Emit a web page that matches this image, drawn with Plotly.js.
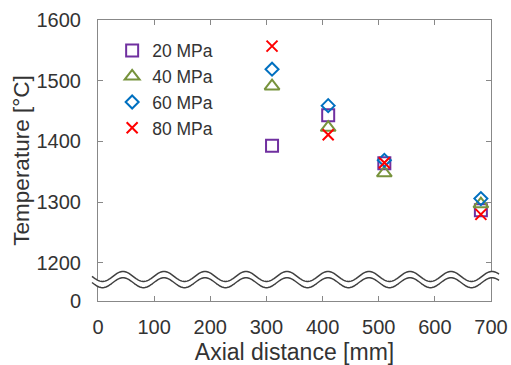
<!DOCTYPE html>
<html>
<head>
<meta charset="utf-8">
<script src="https://cdn.plot.ly/plotly-3.0.1.min.js"></script>
<style>html,body{margin:0;padding:0;background:#fff;}#chart{width:511px;height:365px;}</style>
</head>
<body>
<div id="chart"></div>
<script>
// Data
var axialDistance = [310, 410, 510, 682];
var temp20 = [1393, 1443, 1364, 1287];
var temp40 = [1491, 1423, 1348, 1297];
var temp60 = [1519, 1459, 1369, 1306];
var temp80 = [1557, 1411, 1365, 1280];
var seriesNames = ['20 MPa', '40 MPa', '60 MPa', '80 MPa'];
var xTicks = [0, 100, 200, 300, 400, 500, 600, 700];
var yBreakBase = 1137.4; // axis value drawn at the "0" label (broken axis)
var yTickVals = [yBreakBase, 1200, 1300, 1400, 1500, 1600];
var yTickText = ['0', '1200', '1300', '1400', '1500', '1600'];

var FONT = 'Liberation Sans, Arial, sans-serif';
var W = 511, H = 365, L = 98, R = 20, T = 20, B = 64;
var pw = W - L - R, ph = H - T - B;

function mk(name, y, symbol, color, size) {
  return {
    type: 'scatter', mode: 'markers', name: name,
    x: axialDistance, y: y,
    marker: {symbol: symbol, size: size, color: color, line: {color: color, width: 2}}
  };
}
var traces = [
  mk(seriesNames[0], temp20, 'square-open', '#7030A0', 12),
  mk(seriesNames[1], temp40, 'triangle-up-open', '#77933C', 13),
  mk(seriesNames[2], temp60, 'diamond-open', '#0070C0', 10),
  mk(seriesNames[3], temp80, 'x-thin-open', '#FF0000', 11)
];

// Axis-break symbol (decoration) in paper coordinates
function px2paperX(p){ return (p - L) / pw; }
function px2paperY(p){ return (H - B - p) / ph; }
function wave(center, x0, x1) {
  var pts = [];
  for (var xp = x0; xp <= x1 + 0.01; xp += 1) {
    var yp = center - 5 * Math.cos(2 * Math.PI * (xp - 123) / 41);
    pts.push([px2paperX(xp), px2paperY(yp)]);
  }
  return pts;
}
function toPath(pts, start) {
  return pts.map(function(p, i){ return ((i === 0 && start) ? 'M' : 'L') + p[0].toFixed(5) + ',' + p[1].toFixed(5); }).join(' ');
}
var up = wave(276.5, 92, 499);
var lo = wave(282.7, 92, 499);
var fillPath = toPath(up, true) + ' ' + toPath(lo.slice().reverse(), false) + ' Z';
var shapes = [
  {type: 'path', xref: 'paper', yref: 'paper', path: fillPath, fillcolor: '#ffffff', line: {width: 0}, layer: 'above'},
  {type: 'path', xref: 'paper', yref: 'paper', path: toPath(up, true), line: {color: '#404040', width: 1.5}, layer: 'above'},
  {type: 'path', xref: 'paper', yref: 'paper', path: toPath(lo, true), line: {color: '#404040', width: 1.5}, layer: 'above'}
];

var layout = {
  width: W, height: H,
  margin: {l: L, r: R, t: T, b: B, pad: 0},
  paper_bgcolor: '#ffffff', plot_bgcolor: '#ffffff',
  font: {family: FONT, color: '#333333', size: 18},
  showlegend: true,
  legend: {x: 0.036, y: 0.955, xanchor: 'left', yanchor: 'top', bgcolor: 'rgba(0,0,0,0)',
           font: {family: FONT, size: 17.5, color: '#333333'}, tracegroupgap: 0, itemwidth: 30},
  xaxis: {
    range: [0, 700], tickvals: xTicks, ticks: 'inside', ticklen: 5, tickcolor: '#888888',
    showline: true, linecolor: '#888888', linewidth: 1, mirror: 'ticks',
    showgrid: false, zeroline: false, fixedrange: true,
    tickfont: {family: FONT, size: 20, color: '#333333'}, ticklabelstandoff: 8,
    title: {text: 'Axial distance [mm]', font: {family: FONT, size: 23, color: '#333333'}, standoff: 13}
  },
  yaxis: {
    range: [yBreakBase, 1600], tickvals: yTickVals, ticktext: yTickText,
    ticks: 'inside', ticklen: 5, tickcolor: '#888888',
    showline: true, linecolor: '#888888', linewidth: 1, mirror: 'ticks',
    showgrid: false, zeroline: false, fixedrange: true,
    tickfont: {family: FONT, size: 20, color: '#333333'}, ticklabelstandoff: 12,
    title: {text: 'Temperature [°C]', font: {family: FONT, size: 22.5, color: '#333333'}, standoff: 0}
  },
  shapes: shapes
};
Plotly.newPlot('chart', traces, layout, {staticPlot: true, displayModeBar: false});
</script>
</body>
</html>
